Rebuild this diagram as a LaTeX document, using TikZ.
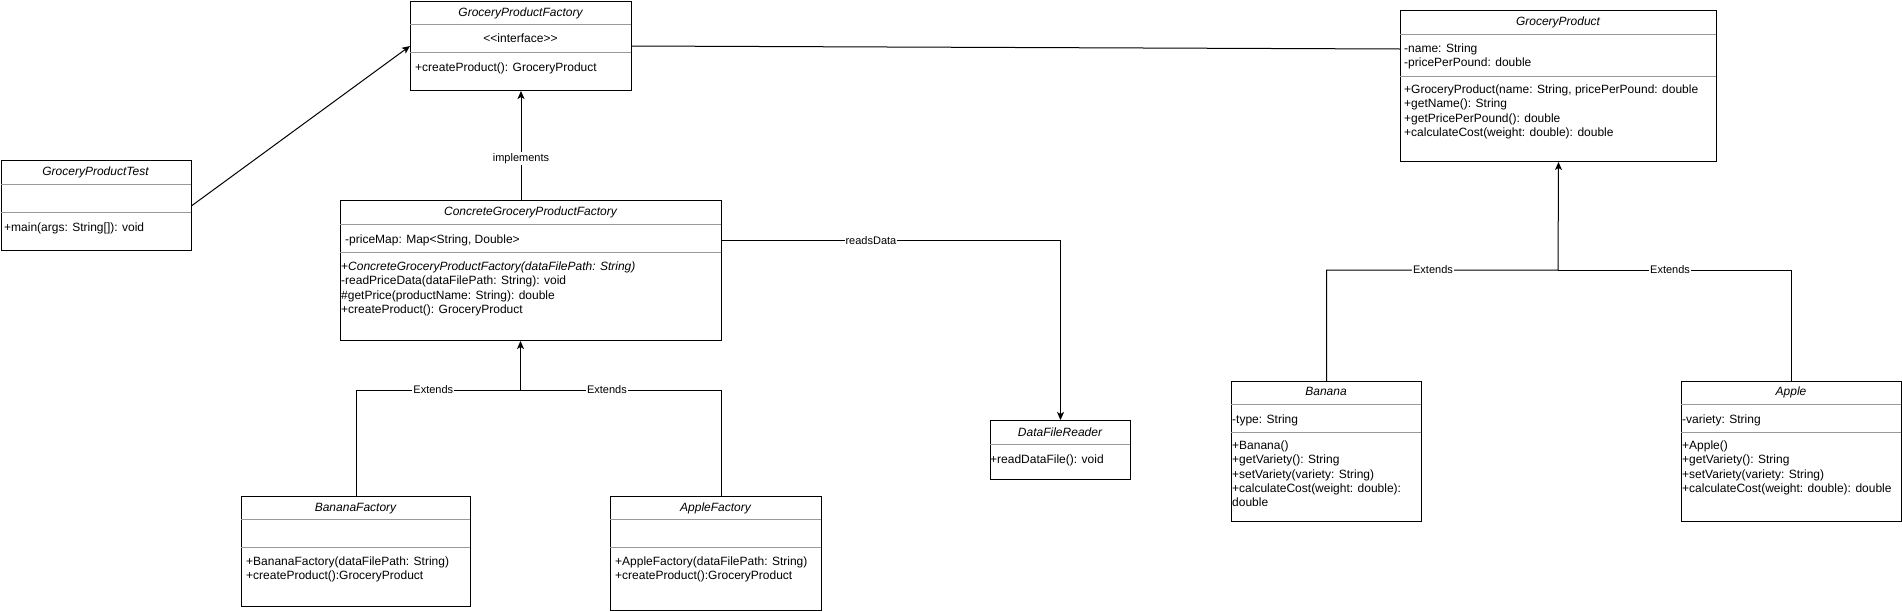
\documentclass[tikz,border=0pt]{standalone}
\usepackage{fontspec}
\setmainfont{Liberation Sans}
\usepackage{tikz}
\usetikzlibrary{arrows.meta}

\begin{document}
\begin{tikzpicture}[x=1pt,y=-1pt,font=\fontsize{12}{14.4}\selectfont,
    cls/.style={draw, line width=1pt, anchor=north west, inner sep=0pt},
    sep/.style={black!40, line width=1pt},
    hd/.style={anchor=base, inner sep=0pt, font=\fontsize{12}{14.4}\selectfont\itshape},
    txt/.style={anchor=north west, align=left, inner sep=0pt, yshift=-2pt, execute at begin node=\strut},
    link/.style={line width=1pt},
    arr/.style={line width=1pt, -{Stealth[length=8pt,width=7pt,inset=2pt]}},
    lbl/.style={fill=white, inner sep=1pt, font=\fontsize{11}{13}\selectfont}]
                \useasboundingbox (0,0) rectangle (1902,611);
                % interface
                \node[cls, minimum width=221pt, minimum height=89pt] (gpf) at (410,1) {};
                \draw[sep] (410,24) -- (631,24); \draw[sep] (410,52) -- (631,52);
                \node[hd] (gpf-t) at (520.5,16) {GroceryProductFactory};
                \node[hd, font=\fontsize{12}{14.4}\selectfont] (gpf-s) at (520.5,42.5) {<{}<interface>{}>};
                \node[txt] (gpf-m) at (415,59.4) {+createProduct(): GroceryProduct};
                % test class
                \node[cls, minimum width=190.5pt, minimum height=90pt] (gpt) at (0.5,160) {};
                \draw[sep] (0.5,184) -- (191,184); \draw[sep] (0.5,212) -- (191,212);
                \node[hd] (gpt-t) at (95.5,175.5) {GroceryProductTest};
                \node[txt] (gpt-m) at (4,219.4) {+main(args: String[]): void};
                % concrete factory
                \node[cls, minimum width=381pt, minimum height=140pt] (cgpf) at (340,200) {};
                \draw[sep] (340,224) -- (721,224); \draw[sep] (340,252) -- (721,252);
                \node[hd] (cgpf-t) at (530.5,215.5) {ConcreteGroceryProductFactory};
                \node[txt] (cgpf-a) at (345,231.4) {-priceMap: Map<String, Double>};
                \node[txt] (cgpf-m) at (341,259.4) {+\textit{ConcreteGroceryProductFactory(dataFilePath: String)}\\
                    -readPriceData(dataFilePath: String): void\\\#getPrice(productName: String): double\\
                    +createProduct(): GroceryProduct};
                % sub factories
                \node[cls, minimum width=229pt, minimum height=110pt] (bf) at (241,496) {};
                \draw[sep] (241,519) -- (470,519); \draw[sep] (241,547) -- (470,547);
                \node[hd] (bf-t) at (355.5,511) {BananaFactory};
                \node[txt] (bf-m) at (246,554.4) {+BananaFactory(dataFilePath: String)\\+createProduct():GroceryProduct};
                \node[cls, minimum width=211pt, minimum height=114pt] (af) at (610,496) {};
                \draw[sep] (610,519) -- (821,519); \draw[sep] (610,547) -- (821,547);
                \node[hd] (af-t) at (715.5,511) {AppleFactory};
                \node[txt] (af-m) at (615,554.4) {+AppleFactory(dataFilePath: String)\\+createProduct():GroceryProduct};
                % reader
                \node[cls, minimum width=140pt, minimum height=59pt] (dfr) at (990,420) {};
                \draw[sep] (990,444) -- (1130,444);
                \node[hd] (dfr-t) at (1060,436) {DataFileReader};
                \node[txt] (dfr-m) at (990,451.4) {+readDataFile(): void};
                % products
                \node[cls, minimum width=316pt, minimum height=151pt] (gp) at (1400,10) {};
                \draw[sep] (1400,34) -- (1716,34); \draw[sep] (1400,76) -- (1716,76);
                \node[hd] (gp-t) at (1558,25.5) {GroceryProduct};
                \node[txt] (gp-a) at (1404,41.4) {-name: String\\-pricePerPound: double};
                \node[txt] (gp-m) at (1404,82.4) {+GroceryProduct(name: String, pricePerPound: double\\+getName(): String\\
                    +getPricePerPound(): double\\+calculateCost(weight: double): double};
                \node[cls, minimum width=190pt, minimum height=140pt] (ban) at (1231,381) {};
                \draw[sep] (1231,404) -- (1421,404); \draw[sep] (1231,432) -- (1421,432);
                \node[hd] (ban-t) at (1326,395.5) {Banana};
                \node[txt] (ban-a) at (1232,411.4) {-type: String};
                \node[txt] (ban-m) at (1232,438.4) {+Banana()\\+getVariety(): String\\+setVariety(variety: String)\\
                    +calculateCost(weight: double):\\double};
                \node[cls, minimum width=220pt, minimum height=140pt] (app) at (1681,381) {};
                \draw[sep] (1681,404) -- (1901,404); \draw[sep] (1681,432) -- (1901,432);
                \node[hd] (app-t) at (1791,395.5) {Apple};
                \node[txt] (app-a) at (1682,411.4) {-variety: String};
                \node[txt] (app-m) at (1682,438.4) {+Apple()\\+getVariety(): String\\+setVariety(variety: String)\\
                    +calculateCost(weight: double): double};
                % connectors
                \coordinate (gpin) at (1400,49);
                \coordinate (jl) at (520.5,390);
                \coordinate (jr) at (1558,270);
                \draw[arr] (gpt.east) -- (gpf.west);
                \draw[link] (gpf.east) -- (gpin);
                \draw[arr] (cgpf.north -| gpf.south) -- node[lbl, pos=0.38]{implements} (gpf.south);
                \draw[arr] (cgpf-a -| cgpf.east) -| node[lbl, pos=0.22]{readsData} (dfr.north);
                \draw[arr] (bf.north) |- node[lbl, pos=0.735]{Extends} (jl) -- (jl |- cgpf.south);
                \draw[link] ([xshift=5.5pt]af.north) |- node[lbl, pos=0.785]{Extends} (jl);
                \draw[arr] (ban.north) |- node[lbl, pos=0.73]{Extends} (jr) -- (gp.south);
                \draw[link] (app.north) |- node[lbl, pos=0.76]{Extends} (jr);
            \end{tikzpicture}
\end{document}
